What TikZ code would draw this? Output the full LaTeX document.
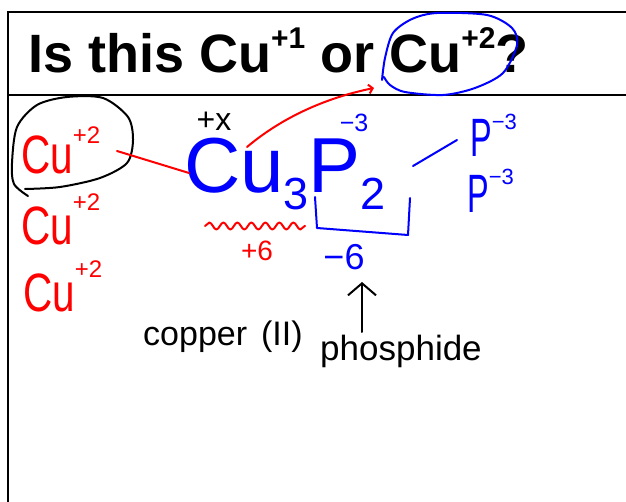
\documentclass[tikz,border=0pt]{standalone}
\usepackage{fontspec}
\setmainfont{Liberation Sans}
\usetikzlibrary{arrows.meta,decorations.pathmorphing}
\newcommand{\chg}[3]{\raisebox{#1}{\fontsize{#2}{#2}\selectfont #3}}
\newcommand{\hand}[2][0.75]{\scalebox{#1}[1]{#2}}

\begin{document}
\begin{tikzpicture}[x=1pt,y=-1pt,
  pen/.style={line width=2pt,line cap=round,line join=round},
  frame/.style={line width=2.5pt},
  txt/.style={inner sep=0pt,anchor=base west},
  redcu/.style={txt,text=red,font=\fontsize{54}{54}\selectfont},
  bluep/.style={txt,text=blue,font=\fontsize{54}{54}\selectfont},
  note/.style={inner sep=0pt}]
\useasboundingbox (0,0) rectangle (626,502);

% slide frame
\draw[frame] (626,12) -- (8,12) -- (8,502);
\draw[frame] (8,95) -- (626,95);
\node[txt,font=\bfseries\fontsize{54}{60}\selectfont] (title) at (28,73)
  {Is this Cu\chg{24pt}{30}{+1} or Cu\chg{24pt}{30}{+2}?};

% formula
\node[txt,text=blue,font=\fontsize{78}{80}\selectfont] (formula) at (184,193)
  {Cu\chg{-17pt}{45}{3}P\chg{-17pt}{45}{2}};
\node[note,font=\fontsize{32}{32}\selectfont] (plusX) at (214,121) {+x};
\node[note,text=blue,font=\fontsize{25}{25}\selectfont] (minusThree) at (354,123) {−3};
\node[note,text=red,font=\fontsize{28}{28}\selectfont] (plusSix) at (257,251) {+6};
\node[note,text=blue,font=\fontsize{36}{36}\selectfont] (minusSix) at (344,257) {−6};
\draw[red,pen,decorate,decoration={snake,amplitude=3.5pt,segment length=14pt}] (205,226) -- (305,226);
\draw[blue,pen] (315,197) -- (317,228) -- (408,235) -- (410,198);

% ions
\node[redcu] (cuA) at (21,174) {\hand{Cu}\chg{30pt}{24}{+2}};
\node[redcu] (cuB) at (21,245) {\hand{Cu}\chg{34pt}{24}{+2}};
\node[redcu] (cuC) at (23,312) {\hand{Cu}\chg{34pt}{24}{+2}};
\node[bluep] (pA) at (470,157) {\hand[0.6]{P}\chg{27pt}{22}{−3}};
\node[bluep] (pB) at (467,213) {\hand[0.6]{P}\chg{28pt}{22}{−3}};

% name
\node[txt,font=\fontsize{34}{34}\selectfont] (nameL) at (143,345) {copper\hspace{14pt}(II)};
\node[txt,font=\fontsize{35}{35}\selectfont] (nameR) at (320,360) {phosphide};

% circles
\draw[pen] plot[smooth] coordinates {(25,189) (60,187) (100,178) (127,163) (133,140)
  (128,117) (103,98) (67,97) (37,105) (17,127) (12,163) (14,184) (28,196)};
\draw[blue,pen] plot[smooth] coordinates {(382,80) (385,58) (393,33) (412,19) (437,13)
  (487,15) (512,28) (517,45) (503,73) (475,88) (443,95) (405,92) (390,85) (384,77)};

% connectors
\coordinate (loopR) at (117,151);
\coordinate (cuHit) at (189,173);
\coordinate (cuTop) at (247,147);
\coordinate (ringL) at (374,88);
\coordinate (pTail) at (413,166);
\coordinate (pHead) at (457,140);
\coordinate (nameTop) at (362,332);
\coordinate (bracketLow) at (362,282);
\draw[red,pen] (loopR) -- (cuHit);
\draw[red,pen,-{Straight Barb[length=4pt,width=9pt]}] (cuTop) .. controls (285,115) and (330,97) .. (ringL);
\draw[blue,pen] (pTail) -- (pHead);
\draw[pen,-{Straight Barb[length=12pt,width=28pt]}] (nameTop) -- (bracketLow);
\end{tikzpicture}
\end{document}
